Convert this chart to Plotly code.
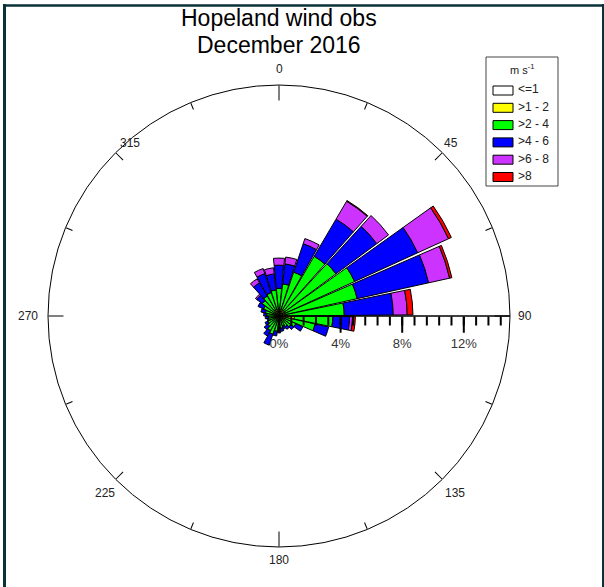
import plotly.graph_objects as go

# Wind rose: frequency (%) of observations per 12-degree direction sector, split by speed class
directions = [0, 12, 24, 36, 48, 60, 72, 84, 96, 108, 120, 132, 144, 156, 168,
              180, 192, 204, 216, 228, 240, 252, 264, 276, 288, 300, 312, 324, 336, 348]

speed_labels = ["<=1", ">1 - 2", ">2 - 4", ">4 - 6", ">6 - 8", ">8"]
speed_colors = ["#ffffff", "#ffff00", "#00ff00", "#0000ff", "#cc33ff", "#ff0000"]

freq_le1 = [0.15, 0.15, 0.15, 0.15, 0.15, 0.15, 0.15, 0.15, 0.40, 0.15, 0.10, 0.10, 0.10, 0.10, 0.10,
            0.10, 0.10, 0.10, 0.10, 0.10, 0.10, 0.10, 0.10, 0.10, 0.10, 0.10, 0.10, 0.15, 0.15, 0.15]
freq_1_2 = [0.30, 0.30, 0.30, 0.30, 0.30, 0.30, 0.30, 0.35, 0.60, 0.30, 0.25, 0.25, 0.20, 0.20, 0.20,
            0.20, 0.20, 0.25, 0.20, 0.20, 0.20, 0.20, 0.20, 0.20, 0.20, 0.20, 0.25, 0.30, 0.30, 0.30]
freq_2_4 = [1.35, 1.65, 2.55, 4.05, 4.15, 4.95, 4.75, 3.74, 2.50, 1.95, 0.85, 0.60, 0.50, 0.40, 0.50,
            0.60, 0.70, 0.90, 0.80, 0.60, 0.50, 0.40, 0.40, 0.50, 0.60, 0.80, 1.00, 1.05, 1.15, 1.25]
freq_4_6 = [1.50, 1.30, 1.95, 2.80, 3.30, 4.50, 4.75, 3.18, 1.09, 0.90, 0.50, 0.25, 0.20, 0.20, 0.20,
            0.20, 0.30, 0.75, 0.40, 0.30, 0.20, 0.10, 0.20, 0.20, 0.30, 0.40, 0.45, 1.00, 1.30, 1.05]
freq_6_8 = [0.46, 0.45, 0.35, 1.35, 0.95, 2.20, 1.40, 0.91, 0.19, 0.00, 0.00, 0.00, 0.00, 0.00, 0.00,
            0.00, 0.00, 0.00, 0.00, 0.00, 0.00, 0.00, 0.00, 0.00, 0.00, 0.00, 0.10, 0.30, 0.35, 0.40]
freq_gt8 = [0.00, 0.00, 0.00, 0.05, 0.00, 0.20, 0.15, 0.37, 0.18, 0.00, 0.00, 0.00, 0.00, 0.00, 0.00,
            0.00, 0.00, 0.00, 0.00, 0.00, 0.00, 0.00, 0.00, 0.00, 0.00, 0.00, 0.00, 0.00, 0.00, 0.00]

series = [freq_le1, freq_1_2, freq_2_4, freq_4_6, freq_6_8, freq_gt8]

compass_labels = ["0", "45", "90", "135", "180", "225", "270", "315"]
cardinal_ticks = [0, 90, 180, 270]
diagonal_ticks = [45, 135, 225, 315]
minor_ang_ticks = [22.5, 67.5, 112.5, 157.5, 202.5, 247.5, 292.5, 337.5]
radial_major = [0, 4, 8, 12]
radial_minor = [round(0.8 * i, 1) for i in range(1, 19)]
r_max = 15

W, H = 604, 587
FONT = "Liberation Sans, Arial, sans-serif"


def px(x):
    return x / W


def py(y):
    return 1 - y / H


# polar disc: centre (279, 316), radius 231 px
cx, cy, rad = 279, 316, 231
dom_x = [px(cx - rad), px(cx + rad)]
dom_y = [py(cy + rad), py(cy - rad)]

fig = go.Figure()
for vals, name, col in zip(series, speed_labels, speed_colors):
    fig.add_trace(go.Barpolar(
        r=vals, theta=directions, width=11, name=name,
        marker=dict(color=col, line=dict(color="black", width=1)),
        showlegend=False, subplot="polar",
    ))

for sp in ["polar2", "polar3"]:
    fig.add_trace(go.Scatterpolar(r=[None], theta=[None], subplot=sp,
                                  showlegend=False, hoverinfo="skip"))

common_ang = dict(rotation=90, direction="clockwise", showgrid=False)
blank_radial = dict(range=[0, r_max], angle=0, showline=False, showgrid=False,
                    showticklabels=False, ticks="")

fig.update_layout(
    width=W, height=H,
    margin=dict(l=0, r=0, t=0, b=0),
    paper_bgcolor="white",
    showlegend=False,
    polar=dict(
        domain=dict(x=dom_x, y=dom_y),
        bgcolor="white",
        barmode="stack",
        angularaxis=dict(
            **common_ang,
            showline=True, linecolor="black", linewidth=1,
            tickmode="array", tickvals=cardinal_ticks,
            ticks="inside", ticklen=15, tickcolor="black", tickwidth=1,
            showticklabels=False,
        ),
        radialaxis=dict(
            range=[0, r_max], angle=0, side="clockwise",
            showline=True, linecolor="black", linewidth=1.5, showgrid=False,
            tickmode="array", tickvals=radial_major,
            ticktext=[f"{v}%" for v in radial_major],
            ticks="outside", ticklen=16, tickcolor="black", tickwidth=1.5,
            tickfont=dict(family=FONT, size=13, color="#333333"),
            tickangle=0,
        ),
    ),
    polar2=dict(
        domain=dict(x=dom_x, y=dom_y),
        bgcolor="rgba(0,0,0,0)",
        angularaxis=dict(
            **common_ang,
            showline=False, tickmode="array", tickvals=diagonal_ticks,
            ticks="inside", ticklen=10, tickcolor="black", tickwidth=1,
            showticklabels=False,
        ),
        radialaxis=dict(
            range=[0, r_max], angle=0, side="clockwise",
            showline=False, showgrid=False,
            tickmode="array", tickvals=radial_minor,
            ticks="outside", ticklen=9, tickcolor="black", tickwidth=1.5,
            showticklabels=False,
        ),
    ),
    polar3=dict(
        domain=dict(x=dom_x, y=dom_y),
        bgcolor="rgba(0,0,0,0)",
        angularaxis=dict(
            **common_ang,
            showline=False, tickmode="array", tickvals=minor_ang_ticks,
            ticks="inside", ticklen=7, tickcolor="black", tickwidth=1,
            showticklabels=False,
        ),
        radialaxis=blank_radial,
    ),
)

# compass labels around the rim
label_pos = [(279, 69), (451, 143), (525, 316), (455, 493),
             (279, 560), (105, 493), (28, 316), (130, 143)]
for txt, (lx, ly) in zip(compass_labels, label_pos):
    fig.add_annotation(text=txt, x=px(lx), y=py(ly), xref="paper", yref="paper",
                       xanchor="center", yanchor="middle", showarrow=False,
                       font=dict(family=FONT, size=12, color="#222222"))

# title
for txt, ty in [("Hopeland wind obs", 18), ("December 2016", 45)]:
    fig.add_annotation(text=txt, x=px(cx), y=py(ty), xref="paper", yref="paper",
                       xanchor="center", yanchor="middle", showarrow=False,
                       font=dict(family=FONT, size=23, color="black"))

# speed-class key
key_left, key_top, key_right, key_bottom = 486, 57, 558, 186
fig.add_shape(type="rect", xref="paper", yref="paper",
              x0=px(key_left), x1=px(key_right), y0=py(key_bottom), y1=py(key_top),
              line=dict(color="#444444", width=1), fillcolor="white")
fig.add_annotation(text="m s<sup>-1</sup>", x=px(522), y=py(69), xref="paper", yref="paper",
                   xanchor="center", yanchor="middle", showarrow=False,
                   font=dict(family=FONT, size=11, color="#222222"))
row_y0, row_step = 90.5, 17.3
for i, (name, col) in enumerate(zip(speed_labels, speed_colors)):
    yc = row_y0 + i * row_step
    fig.add_shape(type="rect", xref="paper", yref="paper",
                  x0=px(493), x1=px(513), y0=py(yc + 4.5), y1=py(yc - 4.5),
                  line=dict(color="black", width=1), fillcolor=col)
    fig.add_annotation(text=name, x=px(516), y=py(yc - 1), xref="paper", yref="paper",
                       xanchor="left", yanchor="middle", showarrow=False,
                       font=dict(family=FONT, size=12, color="#222222"))

# outer frame
frame = "#0a3139"
fig.add_shape(type="line", xref="paper", yref="paper", x0=px(3), x1=px(604), y0=py(5.5), y1=py(5.5),
              line=dict(color=frame, width=2.5))
fig.add_shape(type="line", xref="paper", yref="paper", x0=px(4.5), x1=px(4.5), y0=py(4), y1=py(587),
              line=dict(color=frame, width=3))
fig.add_shape(type="line", xref="paper", yref="paper", x0=px(603), x1=px(603), y0=py(4), y1=py(587),
              line=dict(color=frame, width=2))

fig.write_html("out.html")
